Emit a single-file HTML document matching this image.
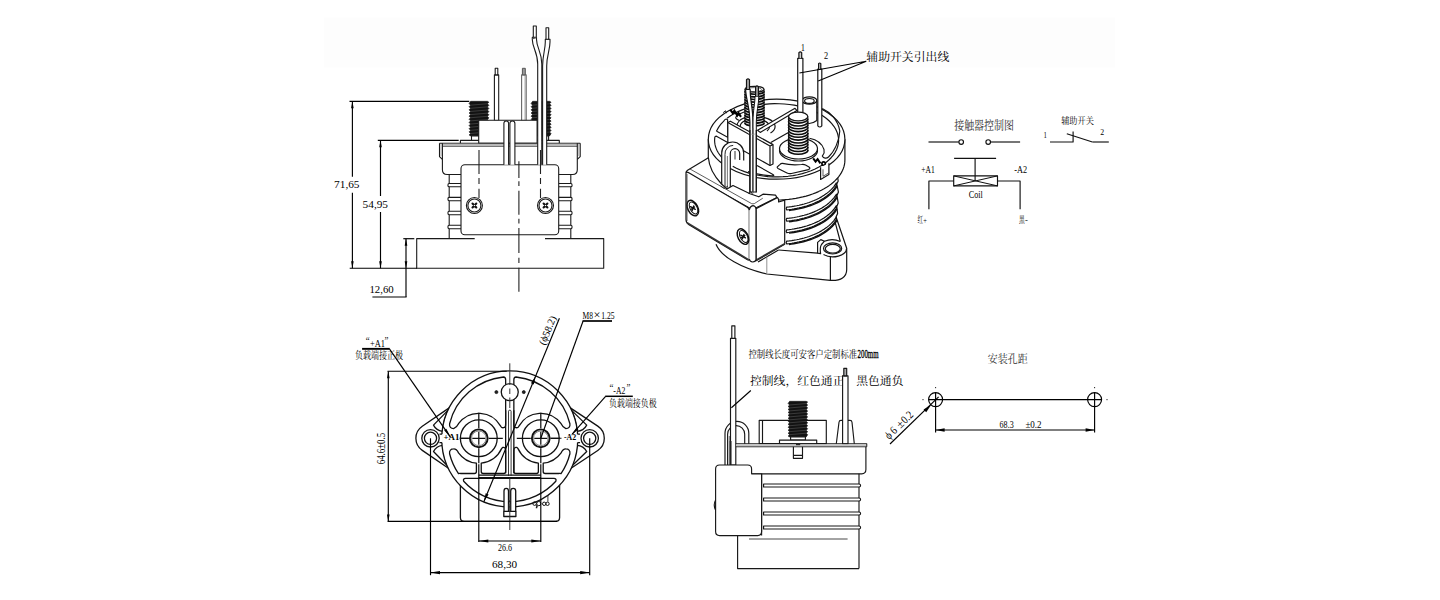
<!DOCTYPE html>
<html><head><meta charset="utf-8"><title>Contactor drawing</title>
<style>
html,body{margin:0;padding:0;background:#fff;}
body{width:1440px;height:600px;overflow:hidden;font-family:"Liberation Serif",serif;}
svg{display:block;}
</style></head><body>
<svg width="1440" height="600" viewBox="0 0 1440 600" fill="none" stroke="#1a1a1a" stroke-width="1" stroke-linecap="butt" stroke-linejoin="round">
<rect x="324" y="17.5" width="791" height="50" fill="#fdfdfd" stroke="none"/>
<g id="front">
<path d="M470.6 101.3L469.1 103.57L470.6 105.15L469.1 106.72L470.6 108.29L469.1 109.86L470.6 111.44L469.1 113.01L470.6 114.58L469.1 116.15L470.6 117.73L469.1 119.3L470.6 120.87L469.1 122.45L470.6 124.02L469.1 125.59L470.6 127.16L469.1 128.74L470.6 130.31L469.1 131.88L470.6 133.45L469.1 135.03L470.6 135.9L487.4 135.9L488.9 133.63L487.4 132.05L488.9 130.48L487.4 128.91L488.9 127.34L487.4 125.76L488.9 124.19L487.4 122.62L488.9 121.05L487.4 119.47L488.9 117.9L487.4 116.33L488.9 114.75L487.4 113.18L488.9 111.61L487.4 110.04L488.9 108.46L487.4 106.89L488.9 105.32L487.4 103.75L488.9 102.17L487.4 101.3Z" fill="#121212" stroke="#121212" stroke-width="0.6"/><path d="M470.7 105.15L487.3 103.75" stroke="#777" stroke-width="0.4"/><path d="M470.7 108.29L487.3 106.89" stroke="#777" stroke-width="0.4"/><path d="M470.7 111.44L487.3 110.04" stroke="#777" stroke-width="0.4"/><path d="M470.7 114.58L487.3 113.18" stroke="#777" stroke-width="0.4"/><path d="M470.7 117.73L487.3 116.33" stroke="#777" stroke-width="0.4"/><path d="M470.7 120.87L487.3 119.47" stroke="#777" stroke-width="0.4"/><path d="M470.7 124.02L487.3 122.62" stroke="#777" stroke-width="0.4"/><path d="M470.7 127.16L487.3 125.76" stroke="#777" stroke-width="0.4"/><path d="M470.7 130.31L487.3 128.91" stroke="#777" stroke-width="0.4"/><path d="M470.7 133.45L487.3 132.05" stroke="#777" stroke-width="0.4"/>
<path d="M532.6 101.3L531.1 103.57L532.6 105.15L531.1 106.72L532.6 108.29L531.1 109.86L532.6 111.44L531.1 113.01L532.6 114.58L531.1 116.15L532.6 117.73L531.1 119.3L532.6 120.87L531.1 122.45L532.6 124.02L531.1 125.59L532.6 127.16L531.1 128.74L532.6 130.31L531.1 131.88L532.6 133.45L531.1 135.03L532.6 135.9L549.6 135.9L551.1 133.63L549.6 132.05L551.1 130.48L549.6 128.91L551.1 127.34L549.6 125.76L551.1 124.19L549.6 122.62L551.1 121.05L549.6 119.47L551.1 117.9L549.6 116.33L551.1 114.75L549.6 113.18L551.1 111.61L549.6 110.04L551.1 108.46L549.6 106.89L551.1 105.32L549.6 103.75L551.1 102.17L549.6 101.3Z" fill="#121212" stroke="#121212" stroke-width="0.6"/><path d="M532.7 105.15L549.5 103.75" stroke="#777" stroke-width="0.4"/><path d="M532.7 108.29L549.5 106.89" stroke="#777" stroke-width="0.4"/><path d="M532.7 111.44L549.5 110.04" stroke="#777" stroke-width="0.4"/><path d="M532.7 114.58L549.5 113.18" stroke="#777" stroke-width="0.4"/><path d="M532.7 117.73L549.5 116.33" stroke="#777" stroke-width="0.4"/><path d="M532.7 120.87L549.5 119.47" stroke="#777" stroke-width="0.4"/><path d="M532.7 124.02L549.5 122.62" stroke="#777" stroke-width="0.4"/><path d="M532.7 127.16L549.5 125.76" stroke="#777" stroke-width="0.4"/><path d="M532.7 130.31L549.5 128.91" stroke="#777" stroke-width="0.4"/><path d="M532.7 133.45L549.5 132.05" stroke="#777" stroke-width="0.4"/>
<rect x="471.5" y="135.9" width="8" height="4.6" fill="#fff" stroke="#1a1a1a" stroke-width="1.1"/>
<rect x="541" y="135.9" width="7.6" height="4.6" fill="#fff" stroke="#1a1a1a" stroke-width="1.1"/>
<path d="M460.4 143.3V140.4H559.3V143.3" fill="#fff" stroke="#1a1a1a" stroke-width="1.1"/>
<rect x="494.4" y="74.9" width="4.3" height="46" fill="#fff" stroke="#1a1a1a" stroke-width="1.1"/>
<rect x="495.2" y="68.3" width="2.6" height="6.6" fill="#fff" stroke="#1a1a1a" stroke-width="1.1"/>
<rect x="521.6" y="74.9" width="4.6" height="46" fill="#fff" stroke="#666" stroke-width="1.1"/>
<path d="M525 75L525 120.3" stroke="#777" stroke-width="0.6"/>
<rect x="522.4" y="68.3" width="2.9" height="6.6" fill="#999" stroke="#555" stroke-width="1"/>
<rect x="478.7" y="120.3" width="58.4" height="23" fill="#fff" stroke="#1a1a1a" stroke-width="1.1"/>
<path d="M439.5 143.3H580.2" stroke="#1a1a1a" stroke-width="1.1"/>
<path d="M442.6 146.4H577.1" stroke="#555" stroke-width="1"/>
<rect x="442.6" y="143.8" width="134.5" height="2.4" fill="#b8b8b8" stroke="none"/>
<path d="M439.5 143.3V156.6L442.4 159.4" fill="none" stroke="#1a1a1a" stroke-width="1.1"/>
<path d="M580.2 143.3V156.6L577.3 159.4" fill="none" stroke="#1a1a1a" stroke-width="1.1"/>
<path d="M441 144V156" stroke="#888" stroke-width="0.6"/>
<path d="M578.7 144V156" stroke="#888" stroke-width="0.6"/>
<path d="M442.4 143.3V169.8Q442.4 174.5 447.1 174.5H461" fill="none" stroke="#1a1a1a" stroke-width="1.1"/>
<path d="M577.3 143.3V169.8Q577.3 174.5 572.6 174.5H558.7" fill="none" stroke="#1a1a1a" stroke-width="1.1"/>
<path d="M449.2 174.5L449.2 238.6" stroke="#1a1a1a" stroke-width="1.1"/>
<path d="M570.8 174.5L570.8 238.6" stroke="#1a1a1a" stroke-width="1.1"/>
<path d="M461 183.5H449.2Q447.9 183.5 447.9 185.15Q447.9 186.8 449.2 186.8H461" fill="#fff" stroke="#1a1a1a" stroke-width="1.1"/>
<path d="M558.7 183.5H570.8Q572.1 183.5 572.1 185.15Q572.1 186.8 570.8 186.8H558.7" fill="#fff" stroke="#1a1a1a" stroke-width="1.1"/>
<path d="M461 197.4H449.2Q447.9 197.4 447.9 199.1Q447.9 200.8 449.2 200.8H461" fill="#fff" stroke="#1a1a1a" stroke-width="1.1"/>
<path d="M558.7 197.4H570.8Q572.1 197.4 572.1 199.1Q572.1 200.8 570.8 200.8H558.7" fill="#fff" stroke="#1a1a1a" stroke-width="1.1"/>
<path d="M461 211.3H449.2Q447.9 211.3 447.9 213Q447.9 214.7 449.2 214.7H461" fill="#fff" stroke="#1a1a1a" stroke-width="1.1"/>
<path d="M558.7 211.3H570.8Q572.1 211.3 572.1 213Q572.1 214.7 570.8 214.7H558.7" fill="#fff" stroke="#1a1a1a" stroke-width="1.1"/>
<path d="M461 225.3H449.2Q447.9 225.3 447.9 227Q447.9 228.7 449.2 228.7H461" fill="#fff" stroke="#1a1a1a" stroke-width="1.1"/>
<path d="M558.7 225.3H570.8Q572.1 225.3 572.1 227Q572.1 228.7 570.8 228.7H558.7" fill="#fff" stroke="#1a1a1a" stroke-width="1.1"/>
<path d="M474.7 238.6H416.7V268.2H603.7V238.6H545" fill="none" stroke="#1a1a1a" stroke-width="1.1"/>
<rect x="461" y="164.75" width="97.7" height="70.05" rx="3.8" fill="#fff" stroke="#1a1a1a" stroke-width="1.1"/>
<path d="M503.9 164.75V123.35A2.35 2.35 0 0 1 508.6 123.35V164.75" fill="#fff" stroke="#1a1a1a" stroke-width="1.1"/>
<path d="M509.9 164.75V123.5A2.5 2.5 0 0 1 514.9 123.5V164.75" fill="#fff" stroke="#1a1a1a" stroke-width="1.1"/>
<path d="M537.7 164.75V64C537.7 52 532.4 48 532.3 39.5V37.3H536.5V39.5C536.7 48 541.8 52 541.8 64V164.75" fill="#fff" stroke="#1a1a1a" stroke-width="1.1"/>
<path d="M542.6 164.75V66C542.6 55 545.3 50 545.3 42V39.3H550V42C550 50 546.7 55 546.7 66V164.75" fill="#fff" stroke="#1a1a1a" stroke-width="1.1"/>
<rect x="533.3" y="26" width="3" height="11.3" fill="#fff" stroke="#1a1a1a" stroke-width="1.1"/>
<rect x="546" y="27.7" width="2.7" height="11.6" fill="#fff" stroke="#1a1a1a" stroke-width="1.1"/>
<path d="M532.6 38.6L536.3 37.6" stroke="#555" stroke-width="1.3"/>
<path d="M540.6 150L540.6 164.5" stroke="#333" stroke-width="1.1"/>
<circle cx="474.4" cy="205.5" r="8" fill="#fff" stroke="#1a1a1a" stroke-width="1.1"/>
<circle cx="474.4" cy="205.5" r="6.5" fill="none" stroke="#1a1a1a" stroke-width="1.1"/>
<path d="M472.5 203.6L476.3 207.4M476.3 203.6L472.5 207.4" stroke="#111" stroke-width="2.1" stroke-linecap="round"/>
<circle cx="474.4" cy="205.5" r="0.7" fill="#fff" stroke="none"/>
<circle cx="545.5" cy="205.5" r="8" fill="#fff" stroke="#1a1a1a" stroke-width="1.1"/>
<circle cx="545.5" cy="205.5" r="6.5" fill="none" stroke="#1a1a1a" stroke-width="1.1"/>
<path d="M543.6 203.6L547.4 207.4M547.4 203.6L543.6 207.4" stroke="#111" stroke-width="2.1" stroke-linecap="round"/>
<circle cx="545.5" cy="205.5" r="0.7" fill="#fff" stroke="none"/>
<path d="M479 150V174M479 178V184M479 188.7V198" fill="none" stroke="#222" stroke-width="1.1"/>
<path d="M540.5 150V174M540.5 178V184M540.5 188.7V198" fill="none" stroke="#222" stroke-width="1.1"/>
<path d="M518.9 161.3V178M518.9 181.3V186M518.9 190.7V214.7M518.9 218.7V223.5M518.9 228V253M518.9 257.7V263M518.9 267.7V291.7" fill="none" stroke="#222" stroke-width="1.1"/>
<path d="M349.5 101.3L469.3 101.3" stroke="#000" stroke-width="1.15"/>
<path d="M352.4 101.3V176.7M352.4 192.7V268.2" stroke="#000" stroke-width="1.15"/>
<path d="M352.4 101.3L353.7 108.3L351.1 108.3Z" fill="#000" stroke="none"/>
<path d="M352.4 268.2L351.1 261.2L353.7 261.2Z" fill="#000" stroke="none"/>
<path d="M377.8 140.3L458.7 140.3" stroke="#000" stroke-width="1.15"/>
<path d="M380.5 140.3V196M380.5 212V268.2" stroke="#000" stroke-width="1.15"/>
<path d="M380.5 140.3L381.8 147.3L379.2 147.3Z" fill="#000" stroke="none"/>
<path d="M380.5 268.2L379.2 261.2L381.8 261.2Z" fill="#000" stroke="none"/>
<path d="M349.7 268.2L417 268.2" stroke="#000" stroke-width="1.15"/>
<path d="M403.3 238.7L414.3 238.7" stroke="#000" stroke-width="1.15"/>
<path d="M406 238.7L406 297" stroke="#000" stroke-width="1.15"/>
<path d="M406 238.7L407.3 245.7L404.7 245.7Z" fill="#000" stroke="none"/>
<path d="M406 268.2L404.7 261.2L407.3 261.2Z" fill="#000" stroke="none"/>
<path d="M372.4 297L406.6 297" stroke="#000" stroke-width="1.15"/>
<text x="346.8" y="187.9" font-family="Liberation Serif" font-size="11.3" text-anchor="middle"  fill="#000" stroke="none">71,65</text>
<text x="375.3" y="207.9" font-family="Liberation Serif" font-size="11.3" text-anchor="middle"  fill="#000" stroke="none">54,95</text>
<text x="381.6" y="292.6" font-family="Liberation Serif" font-size="10.8" text-anchor="middle"  fill="#000" stroke="none">12,60</text>
</g>
<g id="iso">
<path d="M716 244.3C721 257 742 268.5 766.8 274L830.4 280.4C841 281 846.7 277 846.7 269.5V248.3" fill="#fff" stroke="#141414" stroke-width="1.2"/>
<path d="M836 216.7L846.7 248.3M834.7 220.7L840.3 241.5" fill="none" stroke="#141414" stroke-width="1.2"/>
<path d="M778.5 250L817.6 253.2" fill="none" stroke="#141414" stroke-width="1.2"/>
<path d="M758 262L778.5 250" fill="none" stroke="#141414" stroke-width="1.2"/>
<path d="M846.6 248.3A13.8 8.5 0 0 1 823.5 254.6" fill="none" stroke="#141414" stroke-width="1.2"/>
<path d="M840.3 241.5A13.8 8.5 0 0 0 824.5 241.2" fill="none" stroke="#141414" stroke-width="1.2"/>
<ellipse cx="832.6" cy="248.4" rx="9.1" ry="5.6" fill="#fff" stroke="#141414" stroke-width="1.2"/>
<ellipse cx="832.8" cy="248.7" rx="7.5" ry="4.3" fill="none" stroke="#141414" stroke-width="1.2"/>
<path d="M824.5 241.2L820.8 239.6L817.6 242.4V253.2L820.6 253.6Q819.6 247.5 821.5 244.5Z" fill="#fff" stroke="#141414" stroke-width="1.2"/>
<path d="M766.8 255.3L766.8 274" stroke="#777" stroke-width="0.8"/>
<path d="M830.4 256.8L830.4 280.4" stroke="#141414" stroke-width="1.2"/>
<path d="M784.7 198L837.4 176L838.2 181L836.8 184L838.4 192L837 195.5L838.2 203L836.8 206.5L837.6 213.5L836 217L820 238L784.7 248Z" fill="#fff" stroke="none"/>
<path d="M786.7 207.13L789.19 206.87L791.67 206.55L794.16 206.17L796.64 205.73L799.12 205.22L801.61 204.64L804.1 203.99L806.58 203.26L809.07 202.45L811.55 201.55L814.03 200.56L816.52 199.45L819 198.22L821.49 196.86L823.98 195.33L826.46 193.61L828.94 191.63L831.43 189.33L833.91 186.54L836.4 182.93L836.4 185.63L833.91 189.24L831.43 192.03L828.94 194.33L826.46 196.31L823.98 198.03L821.49 199.56L819 200.92L816.52 202.15L814.03 203.26L811.55 204.25L809.07 205.15L806.58 205.96L804.1 206.69L801.61 207.34L799.12 207.92L796.64 208.43L794.16 208.87L791.67 209.25L789.19 209.57L786.7 209.83Q785.6 208.53 786.7 207.13Z" fill="#fff" stroke="#111" stroke-width="1.2"/>
<path d="M789 210.41L791.4 210.11L793.8 209.75L796.2 209.34L798.6 208.87L801 208.34L803.4 207.74L805.8 207.07L808.2 206.33L810.6 205.5L813 204.6L815.4 203.6L817.8 202.49L820.2 201.27L822.6 199.92L825 198.4L827.4 196.7L829.8 194.76L832.2 192.49L834.6 189.76L837 186.21" fill="none" stroke="#111" stroke-width="1.5"/>
<path d="M786.7 218.43L789.19 218.17L791.67 217.85L794.16 217.47L796.64 217.03L799.12 216.52L801.61 215.94L804.1 215.29L806.58 214.56L809.07 213.75L811.55 212.85L814.03 211.86L816.52 210.75L819 209.52L821.49 208.16L823.98 206.63L826.46 204.91L828.94 202.93L831.43 200.63L833.91 197.84L836.4 194.23L836.4 196.93L833.91 200.54L831.43 203.33L828.94 205.63L826.46 207.61L823.98 209.33L821.49 210.86L819 212.22L816.52 213.45L814.03 214.56L811.55 215.55L809.07 216.45L806.58 217.26L804.1 217.99L801.61 218.64L799.12 219.22L796.64 219.73L794.16 220.17L791.67 220.55L789.19 220.87L786.7 221.13Q785.6 219.83 786.7 218.43Z" fill="#fff" stroke="#111" stroke-width="1.2"/>
<path d="M789 221.71L791.4 221.41L793.8 221.05L796.2 220.64L798.6 220.17L801 219.64L803.4 219.04L805.8 218.37L808.2 217.63L810.6 216.8L813 215.9L815.4 214.9L817.8 213.79L820.2 212.57L822.6 211.22L825 209.7L827.4 208L829.8 206.06L832.2 203.79L834.6 201.06L837 197.51" fill="none" stroke="#111" stroke-width="1.5"/>
<path d="M786.7 229.83L789.19 229.57L791.67 229.25L794.16 228.87L796.64 228.43L799.12 227.92L801.61 227.34L804.1 226.69L806.58 225.96L809.07 225.15L811.55 224.25L814.03 223.26L816.52 222.15L819 220.92L821.49 219.56L823.98 218.03L826.46 216.31L828.94 214.33L831.43 212.03L833.91 209.24L836.4 205.63L836.4 208.33L833.91 211.94L831.43 214.73L828.94 217.03L826.46 219.01L823.98 220.73L821.49 222.26L819 223.62L816.52 224.85L814.03 225.96L811.55 226.95L809.07 227.85L806.58 228.66L804.1 229.39L801.61 230.04L799.12 230.62L796.64 231.13L794.16 231.57L791.67 231.95L789.19 232.27L786.7 232.53Q785.6 231.23 786.7 229.83Z" fill="#fff" stroke="#111" stroke-width="1.2"/>
<path d="M789 233.11L791.4 232.81L793.8 232.45L796.2 232.04L798.6 231.57L801 231.04L803.4 230.44L805.8 229.77L808.2 229.03L810.6 228.2L813 227.3L815.4 226.3L817.8 225.19L820.2 223.97L822.6 222.62L825 221.1L827.4 219.4L829.8 217.46L832.2 215.19L834.6 212.46L837 208.91" fill="none" stroke="#111" stroke-width="1.5"/>
<path d="M786.7 241.13L789.19 240.87L791.67 240.55L794.16 240.17L796.64 239.73L799.12 239.22L801.61 238.64L804.1 237.99L806.58 237.26L809.07 236.45L811.55 235.55L814.03 234.56L816.52 233.45L819 232.22L821.49 230.86L823.98 229.33L826.46 227.61L828.94 225.63L831.43 223.33L833.91 220.54L836.4 216.93L836.4 219.63L833.91 223.24L831.43 226.03L828.94 228.33L826.46 230.31L823.98 232.03L821.49 233.56L819 234.92L816.52 236.15L814.03 237.26L811.55 238.25L809.07 239.15L806.58 239.96L804.1 240.69L801.61 241.34L799.12 241.92L796.64 242.43L794.16 242.87L791.67 243.25L789.19 243.57L786.7 243.83Q785.6 242.53 786.7 241.13Z" fill="#fff" stroke="#111" stroke-width="1.2"/>
<path d="M789 244.41L791.4 244.11L793.8 243.75L796.2 243.34L798.6 242.87L801 242.34L803.4 241.74L805.8 241.07L808.2 240.33L810.6 239.5L813 238.6L815.4 237.6L817.8 236.49L820.2 235.27L822.6 233.92L825 232.4L827.4 230.7L829.8 228.76L832.2 226.49L834.6 223.76L837 220.21" fill="none" stroke="#111" stroke-width="1.5"/>
<path d="M838.6 173L837.4 176L838.2 181L836.8 184L838.4 192L837 195.5L838.2 203L836.8 206.5L837.6 213.5L836 217" fill="none" stroke="#141414" stroke-width="1.2"/>
<path d="M708.3 139.2L708.51 136.06L709.14 132.94L710.19 129.86L711.64 126.84L713.5 123.89L715.74 121.04L718.36 118.3L721.34 115.69L724.66 113.22L728.3 110.92L732.24 108.78L736.45 106.84L740.91 105.09L745.59 103.56L750.46 102.24L755.49 101.16L760.66 100.31L765.92 99.69L771.24 99.32L776.6 99.2L781.96 99.32L787.28 99.69L792.54 100.31L797.71 101.16L802.74 102.24L807.61 103.56L812.29 105.09L816.75 106.84L820.96 108.78L824.9 110.92L828.54 113.22L831.86 115.69L834.84 118.3L837.46 121.04L839.7 123.89L841.56 126.84L843.01 129.86L844.06 132.94L844.69 136.06L844.9 139.2L844.9 160L844.9 160L844.69 163.14L844.06 166.26L843.01 169.34L841.56 172.36L839.7 175.31L837.46 178.16L834.84 180.9L831.86 183.51L828.54 185.98L824.9 188.28L820.96 190.42L816.75 192.36L812.29 194.11L807.61 195.64L802.74 196.96L797.71 198.04L792.54 198.89L787.28 199.51L781.96 199.88L776.6 200L771.24 199.88L765.92 199.51L760.66 198.89L755.49 198.04L750.46 196.96L745.59 195.64L740.91 194.11L736.45 192.36L732.24 190.42L728.3 188.28L724.66 185.98L721.34 183.51L718.36 180.9L715.74 178.16L713.5 175.31L711.64 172.36L710.19 169.34L709.14 166.26L708.51 163.14L708.3 160Z" fill="#fff" stroke="none"/>
<path d="M844.9 160L844.8 162.14L844.51 164.27L844.02 166.4L843.34 168.5L842.47 170.58L841.41 172.63L840.16 174.64L838.73 176.61L837.13 178.53L835.35 180.4L833.4 182.21L831.29 183.96L829.02 185.64L826.61 187.25L824.05 188.77L821.35 190.22L818.52 191.58L815.58 192.85L812.52 194.02L809.36 195.1L806.11 196.07L802.77 196.95L799.36 197.71L795.88 198.37L792.35 198.92L788.77 199.36L785.16 199.68L781.52 199.9L777.87 199.99L774.22 199.98" fill="none" stroke="#141414" stroke-width="1.2"/>
<path d="M844.9 139.2L844.9 160" stroke="#141414" stroke-width="1.2"/>
<path d="M708.3 139.2L708.3 158" stroke="#141414" stroke-width="1.2"/>
<ellipse cx="776.6" cy="139.2" rx="68.3" ry="40" fill="#fff" stroke="#141414" stroke-width="1.2"/>
<path d="M727.08 118.27L730.26 115.98L733.74 113.85L737.5 111.9L741.51 110.12L745.76 108.55L750.2 107.18L754.82 106.03L759.58 105.11L764.45 104.41L769.4 103.95L774.4 103.72L779.41 103.74L784.41 103.99L789.35 104.48L794.21 105.21L798.95 106.16L803.55 107.34L807.97 108.73L812.19 110.33L816.18 112.13L819.9 114.11L823.34 116.26L826.48 118.56L829.29 121.01L831.76 123.59L833.87 126.27L835.6 129.05L836.95 131.9L837.9 134.81L838.45 137.75L838.6 140.7L838.34 143.66L837.68 146.59L836.62 149.48L835.16 152.32L833.33 155.07L831.12 157.73L828.56 160.27L825.66 162.68L822.43 164.95L818.91 167.05L815.11 168.98L811.06 170.73L806.78 172.27L802.31 173.6L797.67 174.72L792.89 175.61L788 176.28L783.04 176.7L778.04 176.89L773.03 176.84L768.04 176.55L763.11 176.02L758.27 175.26L753.54 174.27L748.97 173.06L744.57 171.64L740.39 170.01L736.44 168.19L732.76 166.18" fill="none" stroke="#141414" stroke-width="1.2"/>
<path d="M809.5 138.3C816 139.5 822 143.5 824 149.5C825 153 823 155 822.3 156C823.5 158.5 826.5 158.8 828.5 157C834 152 839.5 141 839.8 131C838 120 830 112 822.3 108.5" fill="none" stroke="#141414" stroke-width="1.15"/>
<path d="M778 166.2Q776.3 167.3 778 168.4L787 173Q789 174 791.5 173.5L808.5 169.6Q811 168.6 809 167L805.5 165Q804 164.2 801.5 164.5Q791 165.5 782.5 163.4Q781 163.3 779.8 164.6Z" fill="none" stroke="#141414" stroke-width="1.15"/>
<path d="M757 165.5L772.5 174.2Q775.5 176 771.5 175.8Q760 175.3 748 171.6" fill="none" stroke="#141414" stroke-width="1.15"/>
<path d="M727.6 124.2L727.6 137.2L717.64 131.85Q715.84 130.85 717.15 129.91L717.98 128.38L718.91 126.89L719.96 125.41L721.11 123.97L722.37 122.56L723.74 121.18Q725.5 118.23 727.6 119.63Z" fill="none" stroke="#141414" stroke-width="1.15"/>
<path d="M741.5 150.3L716.46 136.14Q714.66 136.04 714.73 137.97L714.6 140.12L714.69 142.26L714.99 144.4L715.5 146.52L716.22 148.62L717.15 150.69L718.29 152.73L719.62 154.73L721.15 156.67L722.87 158.56L724.77 160.39L726.85 162.14L729.11 163.83" fill="none" stroke="#141414" stroke-width="1.15"/>
<path d="M739.5 120.5Q734 118.5 736.5 116.2Q741 112.8 746 111.2" fill="none" stroke="#141414" stroke-width="1.15"/>
<path d="M737.5 127.5A19 10 0 0 1 745.3 117.4M763.8 117.4A19 10 0 0 1 770.5 133" fill="none" stroke="#141414" stroke-width="1.15"/>
<path d="M740.5 127.8A16 8 0 0 1 745.3 120.6M763.8 120.6A16 8 0 0 1 767 131" fill="none" stroke="#141414" stroke-width="1.15"/>
<path d="M757.6 130.2L795 108.3L797 110.6L760.2 132.4Z" fill="#fff" stroke="#141414" stroke-width="1.2"/>
<path d="M770.8 142.6L790.2 131.5" fill="none" stroke="#141414" stroke-width="1.2"/>
<path d="M727.8 122.5L730.4 121.2L773 144.6V164L770 165.5L727.8 142Z" fill="#fff" stroke="#141414" stroke-width="1.2"/>
<path d="M727.8 122.5L770 146V165.5M770 146L773 144.6" fill="none" stroke="#141414" stroke-width="1.2"/>
<ellipse cx="798.5" cy="150.6" rx="19" ry="10.4" fill="#fff" stroke="#141414" stroke-width="1.2"/>
<path d="M779.6 149.5A19 10.4 0 0 1 817.4 149.5" fill="none" stroke="#141414" stroke-width="1.2"/>
<ellipse cx="798.5" cy="148.6" rx="19" ry="10.4" fill="#fff" stroke="#141414" stroke-width="1.2"/>
<path d="M802 100.5V120.5Q809 126.5 816.8 120.5V100.5" fill="#fff" stroke="#141414" stroke-width="1.2"/>
<ellipse cx="809.4" cy="100.5" rx="7.4" ry="3.7" fill="#fff" stroke="#141414" stroke-width="1.2"/>
<ellipse cx="809.4" cy="100.9" rx="4.8" ry="2.4" fill="none" stroke="#141414" stroke-width="1.2"/>
<rect x="797.7" y="58.3" width="5.2" height="56" fill="#fff" stroke="#141414" stroke-width="1.2"/>
<path d="M798.9 58.3V52.6Q800.3 51.2 801.7 52.6V58.3" fill="#ccc" stroke="#141414" stroke-width="1.2"/>
<path d="M817.8 69.2V125.8Q819.8 128.2 821.8 125.8V69.2Z" fill="#fff" stroke="#141414" stroke-width="1.2"/>
<path d="M818.6 69.2V63.6Q819.7 62.4 820.8 63.6V69.2" fill="#ccc" stroke="#141414" stroke-width="1.2"/>
<path d="M788.6 116.5V150.5A9.6 4.4 0 0 0 807.8 150.5V116.5Z" fill="#fff" stroke="none"/><path d="M788.4 118.73A9.8 4.4 0 0 0 808 118.73" fill="none" stroke="#0c0c0c" stroke-width="1.6"/><path d="M788.4 121.57A9.8 4.4 0 0 0 808 121.57" fill="none" stroke="#0c0c0c" stroke-width="1.6"/><path d="M788.4 124.4A9.8 4.4 0 0 0 808 124.4" fill="none" stroke="#0c0c0c" stroke-width="1.6"/><path d="M788.4 127.23A9.8 4.4 0 0 0 808 127.23" fill="none" stroke="#0c0c0c" stroke-width="1.6"/><path d="M788.4 130.07A9.8 4.4 0 0 0 808 130.07" fill="none" stroke="#0c0c0c" stroke-width="1.6"/><path d="M788.4 132.9A9.8 4.4 0 0 0 808 132.9" fill="none" stroke="#0c0c0c" stroke-width="1.6"/><path d="M788.4 135.73A9.8 4.4 0 0 0 808 135.73" fill="none" stroke="#0c0c0c" stroke-width="1.6"/><path d="M788.4 138.57A9.8 4.4 0 0 0 808 138.57" fill="none" stroke="#0c0c0c" stroke-width="1.6"/><path d="M788.4 141.4A9.8 4.4 0 0 0 808 141.4" fill="none" stroke="#0c0c0c" stroke-width="1.6"/><path d="M788.4 144.23A9.8 4.4 0 0 0 808 144.23" fill="none" stroke="#0c0c0c" stroke-width="1.6"/><path d="M788.4 147.07A9.8 4.4 0 0 0 808 147.07" fill="none" stroke="#0c0c0c" stroke-width="1.6"/><path d="M788.4 149.9A9.8 4.4 0 0 0 808 149.9" fill="none" stroke="#0c0c0c" stroke-width="1.6"/><path d="M788.6 116.5V150.5M807.8 116.5V150.5" fill="none" stroke="#111" stroke-width="1.1"/><ellipse cx="798.2" cy="116.5" rx="9.6" ry="4.4" fill="#fff" stroke="#141414" stroke-width="1.2"/>
<path d="M745 89.3V123.5A9.5 2.9 0 0 0 764 123.5V89.3Z" fill="#fff" stroke="none"/><path d="M744.8 91.33A9.7 2.9 0 0 0 764.2 91.33" fill="none" stroke="#0c0c0c" stroke-width="1.6"/><path d="M744.8 93.96A9.7 2.9 0 0 0 764.2 93.96" fill="none" stroke="#0c0c0c" stroke-width="1.6"/><path d="M744.8 96.59A9.7 2.9 0 0 0 764.2 96.59" fill="none" stroke="#0c0c0c" stroke-width="1.6"/><path d="M744.8 99.22A9.7 2.9 0 0 0 764.2 99.22" fill="none" stroke="#0c0c0c" stroke-width="1.6"/><path d="M744.8 101.85A9.7 2.9 0 0 0 764.2 101.85" fill="none" stroke="#0c0c0c" stroke-width="1.6"/><path d="M744.8 104.48A9.7 2.9 0 0 0 764.2 104.48" fill="none" stroke="#0c0c0c" stroke-width="1.6"/><path d="M744.8 107.12A9.7 2.9 0 0 0 764.2 107.12" fill="none" stroke="#0c0c0c" stroke-width="1.6"/><path d="M744.8 109.75A9.7 2.9 0 0 0 764.2 109.75" fill="none" stroke="#0c0c0c" stroke-width="1.6"/><path d="M744.8 112.38A9.7 2.9 0 0 0 764.2 112.38" fill="none" stroke="#0c0c0c" stroke-width="1.6"/><path d="M744.8 115.01A9.7 2.9 0 0 0 764.2 115.01" fill="none" stroke="#0c0c0c" stroke-width="1.6"/><path d="M744.8 117.64A9.7 2.9 0 0 0 764.2 117.64" fill="none" stroke="#0c0c0c" stroke-width="1.6"/><path d="M744.8 120.27A9.7 2.9 0 0 0 764.2 120.27" fill="none" stroke="#0c0c0c" stroke-width="1.6"/><path d="M744.8 122.9A9.7 2.9 0 0 0 764.2 122.9" fill="none" stroke="#0c0c0c" stroke-width="1.6"/><path d="M745 89.3V123.5M764 89.3V123.5" fill="none" stroke="#111" stroke-width="1.1"/><ellipse cx="754.5" cy="89.3" rx="9.5" ry="2.9" fill="#fff" stroke="#141414" stroke-width="1.2"/>
<ellipse cx="754.5" cy="89.6" rx="7.2" ry="2" fill="none" stroke="#333" stroke-width="0.7"/>
<path d="M745.6 89.5C746 100 749.9 106 749.9 122V192H753V122C753 108 750 100 750.2 89.5Z" fill="#fff" stroke="#141414" stroke-width="1.2"/>
<path d="M755 96.5C755 104 753 110 753 122V192H756.3V122C756.3 112 758.8 104 758.8 96.5Z" fill="#fff" stroke="#141414" stroke-width="1"/>
<path d="M746.5 89V79.6Q748 78.2 749.5 79.6V89" fill="#aaa" stroke="#141414" stroke-width="1.2"/>
<path d="M755.6 96.5V86.6Q757 85.2 758.4 86.6V96.5" fill="#aaa" stroke="#141414" stroke-width="1.2"/>
<path d="M748.5 133.5Q753 135.5 757 133.5" fill="none" stroke="#aaa" stroke-width="0.7"/>
<path d="M730.2 109.6L732.8 113.2L734.4 110.8L737.2 115.4L738.6 113.2L741 116.8" fill="none" stroke="#000" stroke-width="2.1" stroke-linejoin="miter"/>
<path d="M723.2 112.6L725.6 110.8L726.4 113.2" fill="none" stroke="#111" stroke-width="1"/>
<path d="M813.2 158.4L815.6 161.6L817.6 159.2L820.4 163.4" fill="none" stroke="#000" stroke-width="2" stroke-linejoin="miter"/>
<circle cx="823.6" cy="163.6" r="1.7" fill="#fff" stroke="#000" stroke-width="1.7"/>
<path d="M820.6 167.2V179.4L828.9 174.6V163.2" fill="#fff" stroke="#141414" stroke-width="1.2"/>
<path d="M823 169.3V176.3L828.9 172.8" fill="none" stroke="#333" stroke-width="0.8"/>
<path d="M721.7 188V153A11 11 0 0 1 743.7 153V160.5L739.7 160V153.4A4.7 4.7 0 0 0 730.3 153.4V189Z" fill="#fff" stroke="none"/>
<path d="M721.7 188V153A11 11 0 0 1 743.7 153V160.5" fill="none" stroke="#141414" stroke-width="1.2"/>
<path d="M725 188V154.5A8.2 8.4 0 0 1 733.2 145.4" fill="none" stroke="#222" stroke-width="1"/>
<path d="M730.3 189V153.4A4.7 4.7 0 0 1 739.7 153.4V160" fill="none" stroke="#141414" stroke-width="1.2"/>
<path d="M727.4 189V156" fill="none" stroke="#555" stroke-width="0.8"/>
<path d="M735 151V159.5" fill="none" stroke="#333" stroke-width="1"/>
<path d="M687.6 170.2Q685.4 171.8 686.6 173L750.4 208.4Q752.8 209.3 755.2 208.2L777 197.5L775.5 195.2L763 194.2L758.8 196.8L750 193.8L733 185.5L727 189L721.5 184C714 176 709 166 708.4 157.8Z" fill="#fff" stroke="#141414" stroke-width="1.2"/>
<path d="M689.8 168.9L751.6 203.6Q753 204.2 754.5 203.5L762.8 198.2" fill="none" stroke="#333" stroke-width="0.8"/>
<path d="M756 208.6L777.2 197.6Q778.4 198 778.6 200V202L784.7 200.2V244.3L756 260.8Z" fill="#fff" stroke="#141414" stroke-width="1.2"/>
<path d="M756 260.2L784.7 243.6" fill="none" stroke="#333" stroke-width="1.6"/>
<path d="M686 173.5V219.6Q686 222.8 688.6 224.4L747.5 259.8Q749.3 260.8 749.3 258.8V210.6Q749.3 208.4 747.3 207.2L688.4 172.6Q686 171.3 686 173.5Z" fill="#fff" stroke="#141414" stroke-width="1.2"/>
<path d="M687 222.6L748.5 259.6" fill="none" stroke="#333" stroke-width="1.6"/>
<path d="M749.3 210.2Q750 206.2 753 205.6Q756 206 756 209.6V259.6Q755.6 261.8 752.7 262Q749.8 261.8 749.3 259.2" fill="#fff" stroke="#141414" stroke-width="1.2"/>
<g transform="translate(692.8 208.1) rotate(-27)"><ellipse cx="0" cy="0" rx="5" ry="8.3" fill="#fff" stroke="#0c0c0c" stroke-width="1.45"/><ellipse cx="0.7" cy="0.2" rx="3.5" ry="6.5" fill="none" stroke="#111" stroke-width="1.0"/><path d="M-1.4 -2.3L1.6 2.3M1.8 -1.6L-1.6 1.8M-2 0.2L2.1 -0.1" stroke="#0c0c0c" stroke-width="1.3" stroke-linecap="round"/></g>
<g transform="translate(743.0 236.6) rotate(-27)"><ellipse cx="0" cy="0" rx="5" ry="8.3" fill="#fff" stroke="#0c0c0c" stroke-width="1.45"/><ellipse cx="0.7" cy="0.2" rx="3.5" ry="6.5" fill="none" stroke="#111" stroke-width="1.0"/><path d="M-1.4 -2.3L1.6 2.3M1.8 -1.6L-1.6 1.8M-2 0.2L2.1 -0.1" stroke="#0c0c0c" stroke-width="1.3" stroke-linecap="round"/></g>
<path d="M687 174L687 221" stroke="#333" stroke-width="0.8"/>
<path d="M749.9 130V192.6M756.3 130V192.6" fill="none" stroke="#141414" stroke-width="1.2"/>
<path d="M753 128V193.4" fill="none" stroke="#666" stroke-width="0.8"/>
<path d="M748.2 193.4L751 191.5L752.6 194.5M720.6 186L724 188.4L728 186" fill="none" stroke="#222" stroke-width="0.9"/>
<text transform="translate(801 51.3) scale(0.72 1)" font-family="Liberation Serif" font-size="10.6" text-anchor="start"  fill="#000" stroke="none">1</text>
<text transform="translate(824 59.1) scale(0.78 1)" font-family="Liberation Serif" font-size="10.6" text-anchor="start"  fill="#000" stroke="none">2</text>
<path d="M866.3 61.2L799.4 73M866.3 61.2L818.2 81" fill="none" stroke="#000" stroke-width="1.1"/>
<text x="866.3" y="61.3" font-family="'Liberation Serif','Noto Serif CJK SC',serif" font-size="11.8" text-anchor="start" textLength="83" lengthAdjust="spacingAndGlyphs" fill="#000" stroke="none">辅助开关引出线</text>
</g>
<g id="schem">
<text x="954.2" y="130.3" font-family="'Liberation Serif','Noto Serif CJK SC',serif" font-size="12" text-anchor="start" textLength="59.7" lengthAdjust="spacingAndGlyphs" fill="#303030" stroke="none">接触器控制图</text>
<path d="M928.5 142L958.8 142" stroke="#111" stroke-width="1.15"/>
<circle cx="961.2" cy="142" r="2.3" fill="#fff" stroke="#111" stroke-width="1.15"/>
<circle cx="988.2" cy="142" r="2.3" fill="#fff" stroke="#111" stroke-width="1.15"/>
<path d="M990.6 142L1020.1 142" stroke="#111" stroke-width="1.15"/>
<path d="M954.1 158.3L996.1 158.3" stroke="#111" stroke-width="1.15"/>
<path d="M975.1 158.3L975.1 181" stroke="#111" stroke-width="1.15"/>
<rect x="953.7" y="175.9" width="43.8" height="10" fill="none" stroke="#111" stroke-width="1.15"/>
<path d="M953.7 175.9L997.5 185.9M953.7 185.9L997.5 175.9" fill="none" stroke="#111" stroke-width="1"/>
<path d="M953.7 181H928.9V209.3" stroke="#111" stroke-width="1.15"/>
<path d="M997.5 181H1020.1V209.3" stroke="#111" stroke-width="1.15"/>
<text x="921.3" y="172.8" font-family="Liberation Serif" font-size="9.6" text-anchor="start" textLength="13.4" lengthAdjust="spacingAndGlyphs" fill="#000" stroke="none">+A1</text>
<text x="1014.3" y="172.8" font-family="Liberation Serif" font-size="9.6" text-anchor="start" textLength="12.8" lengthAdjust="spacingAndGlyphs" fill="#000" stroke="none">-A2</text>
<text x="968.8" y="197.9" font-family="Liberation Serif" font-size="9.6" text-anchor="start" textLength="14" lengthAdjust="spacingAndGlyphs" fill="#000" stroke="none">Coil</text>
<text x="917.5" y="222.9" font-family="'Liberation Serif','Noto Serif CJK SC',serif" font-size="8.6" text-anchor="start" textLength="5.7" lengthAdjust="spacingAndGlyphs" fill="#000" stroke="none">红</text>
<text x="923.3" y="223.4" font-family="Liberation Serif" font-size="8.5" text-anchor="start" textLength="3.6" lengthAdjust="spacingAndGlyphs" fill="#000" stroke="none">+</text>
<text x="1019" y="223.2" font-family="'Liberation Serif','Noto Serif CJK SC',serif" font-size="8.8" text-anchor="start" textLength="5.7" lengthAdjust="spacingAndGlyphs" fill="#000" stroke="none">黑</text>
<text x="1025" y="223.2" font-family="Liberation Serif" font-size="8.5" text-anchor="start"  fill="#000" stroke="none">-</text>
<text x="1061.2" y="124.4" font-family="'Liberation Serif','Noto Serif CJK SC',serif" font-size="9.6" text-anchor="start" textLength="32.6" lengthAdjust="spacingAndGlyphs" fill="#000" stroke="none">辅助开关</text>
<text x="1043.6" y="137.8" font-family="Liberation Serif" font-size="9.2" text-anchor="start" textLength="3.4" lengthAdjust="spacingAndGlyphs" fill="#000" stroke="none">1</text>
<text x="1100.2" y="135" font-family="Liberation Serif" font-size="9.2" text-anchor="start" textLength="3.9" lengthAdjust="spacingAndGlyphs" fill="#000" stroke="none">2</text>
<path d="M1050 142H1073.1V131.5" stroke="#111" stroke-width="1.15"/>
<path d="M1066.8 133.8L1092.4 142" stroke="#111" stroke-width="1.15"/>
<path d="M1092.4 142L1108.8 142" stroke="#111" stroke-width="1.15"/>
</g>
<g id="top">
<path d="M460.4 478V517.4Q460.4 521.3 464.4 521.3H555.6Q559.6 521.3 559.6 517.4V478" fill="none" stroke="#111" stroke-width="1.3"/>
<path d="M449.2 407.9L422.28 426.23A14.6 14.6 0 0 0 422.28 450.37L449.2 468.7" fill="#fff" stroke="#111" stroke-width="1.3"/>
<circle cx="430.5" cy="438.3" r="8.7" fill="none" stroke="#111" stroke-width="1.3"/>
<circle cx="430.5" cy="438.3" r="6.1" fill="none" stroke="#111" stroke-width="1.3"/>
<path d="M433.5 425.1L448.15 410.1A68.0 68.0 0 0 0 442.45 431.3A11.6 11.6 0 0 1 433.5 425.1Z" fill="none" stroke="#111" stroke-width="1.3"/>
<path d="M433.5 451.5L448.15 466.5A68.0 68.0 0 0 1 442.45 445.3A11.6 11.6 0 0 0 433.5 451.5Z" fill="none" stroke="#111" stroke-width="1.3"/>
<path d="M570.3 407.9L597.77 426.14A14.6 14.6 0 0 1 597.77 450.46L570.3 468.7" fill="#fff" stroke="#111" stroke-width="1.3"/>
<circle cx="589.7" cy="438.3" r="8.7" fill="none" stroke="#111" stroke-width="1.3"/>
<circle cx="589.7" cy="438.3" r="6.1" fill="none" stroke="#111" stroke-width="1.3"/>
<path d="M586.7 425.1L571.35 410.1A68.0 68.0 0 0 1 577.05 431.3A11.6 11.6 0 0 0 586.7 425.1Z" fill="none" stroke="#111" stroke-width="1.3"/>
<path d="M586.7 451.5L571.35 466.5A68.0 68.0 0 0 0 577.05 445.3A11.6 11.6 0 0 1 586.7 451.5Z" fill="none" stroke="#111" stroke-width="1.3"/>
<circle cx="509.75" cy="438.9" r="68" fill="#fff" stroke="#111" stroke-width="1.3"/>
<path d="M441.75 434.1L441.75 442.7" stroke="#fff" stroke-width="2.4"/>
<path d="M442.05 434.1H439.45M442.05 442.7H439.45" fill="none" stroke="#111" stroke-width="1.3"/>
<path d="M577.75 434.1L577.75 442.7" stroke="#fff" stroke-width="2.4"/>
<path d="M577.45 434.1H580.05M577.45 442.7H580.05" fill="none" stroke="#111" stroke-width="1.3"/>
<path d="M505.65 379.75Q505.65 377.05 503.45 377A62.0 62.0 0 0 0 449.59 423.75C449.09 427.15 450.99 428.55 453.59 428.55C455.9 427.71 457.5 425.91 458.5 423.71A25 25 0 0 1 500.67 426.18Q501.87 428.48 504.45 427.38Q505.65 427.18 505.65 423.68L505.65 379.75" fill="none" stroke="#111" stroke-width="1.3"/>
<path d="M505.65 410.3L505.65 473.3" stroke="#111" stroke-width="1.3"/>
<path d="M458.5 452.89A25 25 0 0 0 476.4 463.18L476.4 471.5Q476.4 473.5 474.4 473.5L460.97 473.5Q459.07 473.3 458.47 473.6A62.0 62.0 0 0 1 449.59 453.75C449.09 450.35 450.99 448.95 453.59 448.95C455.9 448.89 457.5 450.69 458.5 452.89Z" fill="none" stroke="#111" stroke-width="1.3"/>
<path d="M481.24 463.18A25 25 0 0 0 501.46 448.87Q502.66 446.57 504.45 447.67Q505.65 447.87 505.65 451.37L505.65 471.5Q505.65 473.5 503.65 473.5L483.24 473.5Q481.24 473.5 481.24 471.5Z" fill="none" stroke="#111" stroke-width="1.3"/>
<circle cx="478.8" cy="438.3" r="18.4" fill="none" stroke="#111" stroke-width="1.3"/>
<circle cx="478.8" cy="438.3" r="8.9" fill="none" stroke="#111" stroke-width="1.9"/>
<circle cx="478.8" cy="438.3" r="7.3" fill="none" stroke="#333" stroke-width="0.6"/>
<path d="M478.8 412.8V428.3M478.8 431.8V444.8M478.8 448.3V463.3M472.3 438.3H485.3M468.8 438.3H459.8M488.8 438.3H502.8" fill="none" stroke="#111" stroke-width="1.25"/>
<path d="M513.85 379.75Q513.85 377.05 516.05 377A62.0 62.0 0 0 1 569.91 423.75C570.41 427.15 568.51 428.55 565.91 428.55C563.7 427.71 562.1 425.91 561.1 423.71A25 25 0 0 0 518.93 426.18Q517.73 428.48 515.05 427.38Q513.85 427.18 513.85 423.68L513.85 379.75" fill="none" stroke="#111" stroke-width="1.3"/>
<path d="M513.85 410.3L513.85 473.3" stroke="#111" stroke-width="1.3"/>
<path d="M561.1 452.89A25 25 0 0 1 543.2 463.18L543.2 471.5Q543.2 473.5 545.2 473.5L558.53 473.5Q560.43 473.3 561.03 473.6A62.0 62.0 0 0 0 569.91 453.75C570.41 450.35 568.51 448.95 565.91 448.95C563.7 448.89 562.1 450.69 561.1 452.89Z" fill="none" stroke="#111" stroke-width="1.3"/>
<path d="M538.36 463.18A25 25 0 0 1 518.14 448.87Q516.94 446.57 515.05 447.67Q513.85 447.87 513.85 451.37L513.85 471.5Q513.85 473.5 515.85 473.5L536.36 473.5Q538.36 473.5 538.36 471.5Z" fill="none" stroke="#111" stroke-width="1.3"/>
<circle cx="540.8" cy="438.3" r="18.4" fill="none" stroke="#111" stroke-width="1.3"/>
<circle cx="540.8" cy="438.3" r="8.9" fill="none" stroke="#111" stroke-width="1.9"/>
<circle cx="540.8" cy="438.3" r="7.3" fill="none" stroke="#333" stroke-width="0.6"/>
<path d="M540.8 412.8V428.3M540.8 431.8V444.8M540.8 448.3V463.3M534.3 438.3H547.3M550.8 438.3H559.8M530.8 438.3H516.8" fill="none" stroke="#111" stroke-width="1.25"/>
<circle cx="509.75" cy="392.1" r="8.5" fill="#fff" stroke="#111" stroke-width="1.3"/>
<circle cx="496.4" cy="392.1" r="1.5" fill="#222" stroke="#111" stroke-width="0.8"/>
<circle cx="523.75" cy="392.1" r="1.5" fill="#222" stroke="#111" stroke-width="0.8"/>
<path d="M478.8 475.1H540.8M478.8 477.6H540.8" fill="none" stroke="#111" stroke-width="1.3"/>
<path d="M465.6 478.4H553.9Q556.7 478.5 555.8 481.19A62.0 62.0 0 0 1 463.7 481.19Q462.8 478.5 465.6 478.4Z" fill="none" stroke="#111" stroke-width="1.3"/>
<path d="M508.5 476V411.2Q508.5 410.2 509.8 410.2Q511.1 410.2 511.1 411.2V476" fill="none" stroke="#222" stroke-width="0.9"/>
<path d="M504 511.3V491Q504 488.3 506.25 488.3Q508.5 488.3 508.5 491V511.3" fill="#fff" stroke="#111" stroke-width="1.3"/>
<path d="M515.7 511.3V491Q515.7 488.3 513.2 488.3Q510.7 488.3 510.7 491V511.3" fill="#fff" stroke="#111" stroke-width="1.3"/>
<path d="M503.8 511.3H515.9V516.5H503.8Z" fill="#fff" stroke="#111" stroke-width="1.3"/>
<path d="M508.5 500.5H510.7M509 504V510.5M510.3 504V510.5" fill="none" stroke="#333" stroke-width="0.8"/>
<circle cx="534.6" cy="503.6" r="1.8" fill="none" stroke="#111" stroke-width="1"/>
<circle cx="538.8" cy="503.6" r="2.1" fill="none" stroke="#111" stroke-width="1"/>
<circle cx="544.2" cy="503.8" r="1.7" fill="none" stroke="#111" stroke-width="1"/>
<circle cx="547.5" cy="503.8" r="1.7" fill="none" stroke="#111" stroke-width="1"/>
<path d="M536.7 505V508.3M535.8 507.6L537.8 506.6" stroke="#111" stroke-width="1"/>
<path d="M547.9 495V501.7" stroke="#222" stroke-width="0.9"/>
<path d="M509.8 363.3V385M509.8 388.5V394M509.8 397.5V408M509.8 478.5V530" stroke="#333" stroke-width="1"/>
<text x="443.6" y="440.3" font-family="Liberation Serif" font-size="7.8" text-anchor="start" font-weight="bold" textLength="15.8" lengthAdjust="spacingAndGlyphs" fill="#000" stroke="none">+A1</text>
<text x="564" y="440.3" font-family="Liberation Serif" font-size="7.8" text-anchor="start" font-weight="bold" textLength="12.2" lengthAdjust="spacingAndGlyphs" fill="#000" stroke="none">-A2</text>
<path d="M461 438.3H469M550.5 438.3H561.5" stroke="#111" stroke-width="1.05"/>
<path d="M387.5 371.2L506.7 371.2" stroke="#000" stroke-width="1.15"/>
<path d="M387.6 521.4L557 521.4" stroke="#000" stroke-width="1.15"/>
<path d="M388.3 371.2L388.3 521.4" stroke="#000" stroke-width="1.15"/>
<path d="M388.3 371.2L389.6 378.2L387 378.2Z" fill="#000" stroke="none"/>
<path d="M388.3 521.4L387 514.4L389.6 514.4Z" fill="#000" stroke="none"/>
<path d="M430.5 438.3L430.5 575.2" stroke="#000" stroke-width="1.15"/>
<path d="M589.7 438.3L589.7 575.2" stroke="#000" stroke-width="1.15"/>
<path d="M478.8 464.3L478.8 542" stroke="#000" stroke-width="1.15"/>
<path d="M540.8 464.3L540.8 542" stroke="#000" stroke-width="1.15"/>
<path d="M478.8 541L540.8 541" stroke="#000" stroke-width="1.15"/>
<path d="M478.8 541L488.3 539.45L488.3 542.55Z" fill="#000" stroke="none"/>
<path d="M540.8 541L531.3 542.55L531.3 539.45Z" fill="#000" stroke="none"/>
<path d="M430.5 572.6L589.7 572.6" stroke="#000" stroke-width="1.15"/>
<path d="M430.5 572.6L440 571.05L440 574.15Z" fill="#000" stroke="none"/>
<path d="M589.7 572.6L580.2 574.15L580.2 571.05Z" fill="#000" stroke="none"/>
<text x="505" y="551" font-family="Liberation Serif" font-size="9.4" text-anchor="middle" textLength="14" lengthAdjust="spacingAndGlyphs" fill="#000" stroke="none">26.6</text>
<text x="504.6" y="567.9" font-family="Liberation Serif" font-size="11.2" text-anchor="middle"  fill="#000" stroke="none">68,30</text>
<g transform="translate(385.4 464.3) rotate(-90)"><text transform="translate(0 0) scale(0.74 1)" font-family="Liberation Serif" font-size="12" text-anchor="start"  fill="#000" stroke="none">64.6±0.5</text></g>
<path d="M483.84 501.8L559.43 318.28" stroke="#000" stroke-width="1.15"/>
<path d="M535.66 376L533.81 384.54L530.95 383.36Z" fill="#000" stroke="none"/>
<path d="M483.84 501.8L485.69 493.26L488.55 494.44Z" fill="#000" stroke="none"/>
<g transform="translate(546.3 346.2) rotate(-67.6)"><text x="0" y="-1.4" font-family="Liberation Serif" font-size="10.4" text-anchor="start" textLength="30.5" lengthAdjust="spacingAndGlyphs" fill="#000" stroke="none">(ϕ58.2)</text></g>
<path d="M582.5 321L612 321" stroke="#000" stroke-width="1.7"/>
<path d="M583 321.3L540.8 438.3" stroke="#000" stroke-width="1.15"/>
<text x="582.5" y="318.8" font-family="Liberation Serif" font-size="10.4" text-anchor="start" textLength="10.4" lengthAdjust="spacingAndGlyphs" fill="#000" stroke="none">M8</text>
<text x="593.6" y="319" font-family="Liberation Serif" font-size="13" text-anchor="start" textLength="7" lengthAdjust="spacingAndGlyphs" fill="#000" stroke="none">×</text>
<text x="601.2" y="318.8" font-family="Liberation Serif" font-size="10.4" text-anchor="start" textLength="13.4" lengthAdjust="spacingAndGlyphs" fill="#000" stroke="none">1.25</text>
<text transform="translate(365.8 344.2) scale(0.8 1)" font-family="Liberation Serif" font-size="11" text-anchor="start"  fill="#000" stroke="none">“</text>
<text transform="translate(384.5 344.2) scale(0.8 1)" font-family="Liberation Serif" font-size="11" text-anchor="start"  fill="#000" stroke="none">”</text>
<text transform="translate(370 346.7) scale(0.74 1)" font-family="Liberation Serif" font-size="11.4" text-anchor="start"  fill="#000" stroke="none">+A1</text>
<path d="M362.1 348.85L389.8 348.85" stroke="#000" stroke-width="1.9"/>
<text x="355" y="359.1" font-family="'Liberation Serif','Noto Serif CJK SC',serif" font-size="10" text-anchor="start" textLength="48" lengthAdjust="spacingAndGlyphs" fill="#000" stroke="none">负载端接正极</text>
<path d="M389.6 349.2L450.2 436.9" stroke="#000" stroke-width="1.15"/>
<path d="M451.2 438.2L444.18 430.28L446.32 428.81Z" fill="#000" stroke="none"/>
<text transform="translate(609.6 391.3) scale(0.8 1)" font-family="Liberation Serif" font-size="11" text-anchor="start"  fill="#000" stroke="none">“</text>
<text transform="translate(626.6 391.3) scale(0.8 1)" font-family="Liberation Serif" font-size="11" text-anchor="start"  fill="#000" stroke="none">”</text>
<text transform="translate(613.3 394) scale(0.68 1)" font-family="Liberation Serif" font-size="11.4" text-anchor="start"  fill="#000" stroke="none">-A2</text>
<path d="M605.2 396.3L632.8 396.3" stroke="#000" stroke-width="1.5"/>
<text x="609.1" y="406.8" font-family="'Liberation Serif','Noto Serif CJK SC',serif" font-size="10" text-anchor="start" textLength="47.5" lengthAdjust="spacingAndGlyphs" fill="#000" stroke="none">负载端接负极</text>
<path d="M605.6 396.3L572.2 434.2" stroke="#000" stroke-width="1.15"/>
<path d="M570.8 435.8L576.44 427.44L578.39 429.16Z" fill="#000" stroke="none"/>
</g>
<g id="side">
<text x="748.4" y="358.2" font-family="'Liberation Serif','Noto Serif CJK SC',serif" font-size="10" text-anchor="start" textLength="108.8" lengthAdjust="spacingAndGlyphs" fill="#000" stroke="none">控制线长度可安客户定制标准</text>
<text transform="translate(857.6 358.4) scale(0.56 1)" font-family="Liberation Serif" font-size="12.2" text-anchor="start" stroke="#000" stroke-width="0.35" fill="#000" stroke="none">200mm</text>
<text x="750" y="385.3" font-family="'Liberation Serif','Noto Serif CJK SC',serif" font-size="11.8" text-anchor="start" textLength="153.5" lengthAdjust="spacingAndGlyphs" fill="#000" stroke="none">控制线，红色通正，黑色通负</text>
<rect x="759.2" y="420.3" width="67.1" height="23.4" fill="#fff" stroke="#181818" stroke-width="1.15"/>
<path d="M762.5 420.3L762.5 443.7" stroke="#181818" stroke-width="1.15"/>
<path d="M789.6 401.3L788.1 403.48L789.6 404.97L788.1 406.45L789.6 407.93L788.1 409.42L789.6 410.9L788.1 412.38L789.6 413.87L788.1 415.35L789.6 416.83L788.1 418.32L789.6 419.8L788.1 421.28L789.6 422.77L788.1 424.25L789.6 425.73L788.1 427.22L789.6 428.7L788.1 430.18L789.6 431.67L788.1 433.15L789.6 434.63L788.1 436.12L789.6 436.9L806.2 436.9L807.7 434.72L806.2 433.23L807.7 431.75L806.2 430.27L807.7 428.78L806.2 427.3L807.7 425.82L806.2 424.33L807.7 422.85L806.2 421.37L807.7 419.88L806.2 418.4L807.7 416.92L806.2 415.43L807.7 413.95L806.2 412.47L807.7 410.98L806.2 409.5L807.7 408.02L806.2 406.53L807.7 405.05L806.2 403.57L807.7 402.08L806.2 401.3Z" fill="#121212" stroke="#121212" stroke-width="0.6"/><path d="M789.7 404.97L806.1 403.57" stroke="#777" stroke-width="0.4"/><path d="M789.7 407.93L806.1 406.53" stroke="#777" stroke-width="0.4"/><path d="M789.7 410.9L806.1 409.5" stroke="#777" stroke-width="0.4"/><path d="M789.7 413.87L806.1 412.47" stroke="#777" stroke-width="0.4"/><path d="M789.7 416.83L806.1 415.43" stroke="#777" stroke-width="0.4"/><path d="M789.7 419.8L806.1 418.4" stroke="#777" stroke-width="0.4"/><path d="M789.7 422.77L806.1 421.37" stroke="#777" stroke-width="0.4"/><path d="M789.7 425.73L806.1 424.33" stroke="#777" stroke-width="0.4"/><path d="M789.7 428.7L806.1 427.3" stroke="#777" stroke-width="0.4"/><path d="M789.7 431.67L806.1 430.27" stroke="#777" stroke-width="0.4"/><path d="M789.7 434.63L806.1 433.23" stroke="#777" stroke-width="0.4"/>
<rect x="790.6" y="436.9" width="14.8" height="3.2" fill="#fff" stroke="#181818" stroke-width="1.15"/>
<rect x="779.5" y="440.1" width="37.2" height="3.6" fill="#fff" stroke="#181818" stroke-width="1.15"/>
<path d="M836.3 443.7L839 422.2Q839.2 420.3 841 420.3H850Q851.8 420.3 852 422.2L854.3 443.7" fill="#fff" stroke="#181818" stroke-width="1.15"/>
<rect x="842.6" y="375.8" width="5.4" height="68" fill="#fff" stroke="#181818" stroke-width="1.15"/>
<rect x="843.8" y="368.3" width="2.9" height="7.5" fill="#aaa" stroke="#181818" stroke-width="1.15"/>
<path d="M725 465V433.2A11.9 11.9 0 0 1 748.8 433.2V443.7" fill="none" stroke="#181818" stroke-width="1.15"/>
<path d="M727.6 465V434.2A8.55 8.55 0 0 1 744.7 434.2V443.7" fill="none" stroke="#181818" stroke-width="1.15"/>
<path d="M729.3 465V436" stroke="#555" stroke-width="0.8"/>
<rect x="730.5" y="338.3" width="5.3" height="126.7" fill="#fff" stroke="#181818" stroke-width="1.15"/>
<rect x="731.8" y="325.8" width="3.1" height="12.5" fill="#fff" stroke="#181818" stroke-width="1.15"/>
<rect x="729.7" y="441" width="1.8" height="24" fill="#222" stroke="none"/>
<path d="M750.8 390.5L731.4 407.8" stroke="#000" stroke-width="1.15"/>
<path d="M735.8 443.7H866.7V446.7" fill="none" stroke="#181818" stroke-width="1.15"/>
<path d="M735.8 446.7L866.7 446.7" stroke="#181818" stroke-width="1.15"/>
<rect x="736.2" y="444.2" width="130" height="2" fill="#c4c4c4" stroke="none"/>
<path d="M865.9 446.7V469.6Q865.9 473.8 861.7 473.8H751.6" fill="none" stroke="#181818" stroke-width="1.15"/>
<path d="M793.4 446.7V458.3H802.5V446.7M793.4 455.4H802.5" fill="none" stroke="#181818" stroke-width="1.15"/>
<path d="M796 444.6H800.2" stroke="#222" stroke-width="1.2"/>
<path d="M761.6 473.8L761.6 535.6" stroke="#181818" stroke-width="1.15"/>
<path d="M859 473.8L859 568.6" stroke="#181818" stroke-width="1.15"/>
<path d="M763.6 484H859Q860.6 484 860.6 485.5Q860.6 487 859 487H763.6Z" fill="#fff" stroke="#181818" stroke-width="1.15"/>
<path d="M763.6 498H859Q860.6 498 860.6 499.5Q860.6 501 859 501H763.6Z" fill="#fff" stroke="#181818" stroke-width="1.15"/>
<path d="M763.6 512H859Q860.6 512 860.6 513.5Q860.6 515 859 515H763.6Z" fill="#fff" stroke="#181818" stroke-width="1.15"/>
<path d="M763.6 526H859Q860.6 526 860.6 527.5Q860.6 529 859 529H763.6Z" fill="#fff" stroke="#181818" stroke-width="1.15"/>
<path d="M737.6 535.6V568.6H859" fill="none" stroke="#181818" stroke-width="1.15"/>
<path d="M749 539L847.6 539" stroke="#333" stroke-width="0.9"/>
<path d="M719.6 465H747.6Q751.6 465 751.6 469V473.8H761.6V531.6Q761.6 535.6 757.6 535.6H719.6Q715.6 535.6 715.6 531.6V469Q715.6 465 719.6 465Z" fill="#fff" stroke="#181818" stroke-width="1.15"/>
<path d="M715.6 500Q712.9 505 715.6 510" fill="none" stroke="#181818" stroke-width="1.15"/>
</g>
<g id="holes">
<text x="987.8" y="363.3" font-family="'Liberation Serif','Noto Serif CJK SC',serif" font-size="11.8" text-anchor="start" textLength="39.9" lengthAdjust="spacingAndGlyphs" fill="#303030" stroke="none">安装孔距</text>
<circle cx="935.6" cy="399.6" r="7" fill="none" stroke="#000" stroke-width="1.15"/>
<path d="M935.6 392.8L935.6 432.4" stroke="#000" stroke-width="1.15"/>
<circle cx="1094.6" cy="399.6" r="7" fill="none" stroke="#000" stroke-width="1.15"/>
<path d="M1094.6 392.8L1094.6 432.4" stroke="#000" stroke-width="1.15"/>
<path d="M928.6 399.6L1101.6 399.6" stroke="#000" stroke-width="1.15"/>
<path d="M935.6 430L1094.6 430" stroke="#000" stroke-width="1.15"/>
<path d="M935.6 430L944.6 428.2L944.6 431.8Z" fill="#000" stroke="none"/>
<path d="M1094.6 430L1085.6 431.8L1085.6 428.2Z" fill="#000" stroke="none"/>
<rect x="935.1" y="387" width="1" height="1.2" fill="#222" stroke="none"/>
<rect x="922.5" y="399" width="1" height="1.2" fill="#222" stroke="none"/>
<rect x="1094.1" y="387" width="1" height="1.2" fill="#222" stroke="none"/>
<rect x="1106.5" y="399" width="1" height="1.2" fill="#222" stroke="none"/>
<text transform="translate(999.6 428) scale(0.76 1)" font-family="Liberation Serif" font-size="10.6" text-anchor="start"  fill="#000" stroke="none">68.3</text>
<text transform="translate(1025.4 428) scale(0.85 1)" font-family="Liberation Serif" font-size="10.6" text-anchor="start"  fill="#000" stroke="none">±0.2</text>
<path d="M890 444L938.6 396.8" stroke="#000" stroke-width="1.15"/>
<path d="M931.2 404.8L926.22 412.3L923.57 409.57Z" fill="#000" stroke="none"/>
<g transform="translate(888.9 439.9) rotate(-44)"><text transform="translate(0 0) scale(0.9 1)" font-family="Liberation Serif" font-size="11.4" text-anchor="start"  fill="#000" stroke="none">ϕ</text><text transform="translate(7.4 0) scale(0.9 1)" font-family="Liberation Serif" font-size="11.4" text-anchor="start"  fill="#000" stroke="none">6</text><text transform="translate(16.2 0) scale(0.95 1)" font-family="Liberation Serif" font-size="11.4" text-anchor="start"  fill="#000" stroke="none">±</text><text transform="translate(22.6 0) scale(0.86 1)" font-family="Liberation Serif" font-size="11.4" text-anchor="start"  fill="#000" stroke="none">0.2</text></g>
</g>
</svg>
</body></html>
